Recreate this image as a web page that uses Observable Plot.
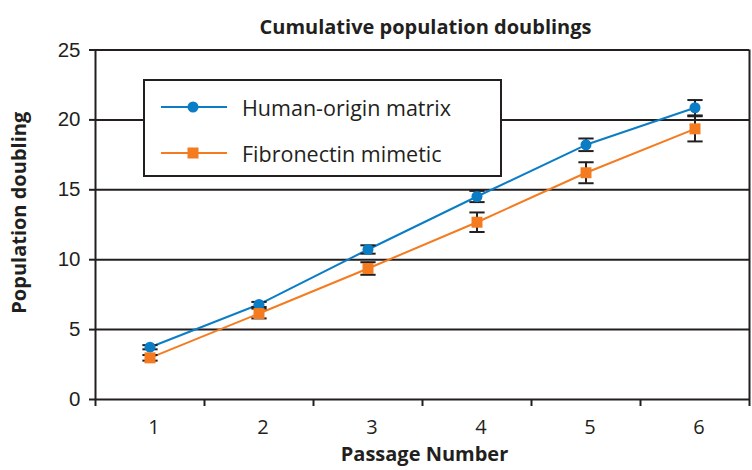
<!DOCTYPE html>
<html>
<head>
<meta charset="utf-8">
<script src="https://cdn.jsdelivr.net/npm/d3@7"></script>
<script src="https://cdn.jsdelivr.net/npm/@observablehq/plot@0.6"></script>
<style>
  body { margin: 0; background: #fff; }
  #wrap { position: relative; width: 752px; height: 470px; }
  #legend { position: absolute; left: 143px; top: 79px; width: 355px; height: 94px;
    border: 2px solid #231f20; background: #fff; font-family: "Open Sans", "Noto Sans", sans-serif;
    font-size: 21.5px; color: #231f20; }
  .row { position: absolute; left: 0; height: 30px; display: flex; align-items: center; }
  .row svg { margin-left: 16px; }
  .row span { margin-left: 15px; }
</style>
</head>
<body>
<div id="wrap"></div>
<script>
const passages = [1, 2, 3, 4, 5, 6];
const seriesNames = ["Human-origin matrix", "Fibronectin mimetic"];
const humanValues = [3.74, 6.8, 10.73, 14.52, 18.22, 20.87];
const humanErrors = [0.15, 0.18, 0.3, 0.4, 0.45, 0.55];
const fibroValues = [2.98, 6.15, 9.37, 12.68, 16.22, 19.36];
const fibroErrors = [0.2, 0.35, 0.45, 0.7, 0.75, 0.9];
const yTicks = [0, 5, 10, 15, 20, 25];
const colors = ["#0b7dc5", "#f47b20"];
const ink = "#231f20";

const data = [];
passages.forEach((p, i) => {
  data.push({series: seriesNames[0], x: p, y: humanValues[i], e: humanErrors[i]});
  data.push({series: seriesNames[1], x: p, y: fibroValues[i], e: fibroErrors[i]});
});
const human = data.filter(d => d.series === seriesNames[0]);
const fibro = data.filter(d => d.series === seriesNames[1]);
const boundaries = [0.5, 1.5, 2.5, 3.5, 4.5, 5.5, 6.5];
const capHalf = 0.07;
const frutiger = "'Open Sans', 'Noto Sans', sans-serif";

const chart = Plot.plot({
  width: 752,
  height: 470,
  marginTop: 49.5,
  marginBottom: 71,
  marginLeft: 95,
  marginRight: 3,
  x: {domain: [0.5, 6.5]},
  y: {domain: [0, 25]},
  style: {background: "#fff"},
  marks: [
    Plot.ruleY(yTicks.filter(v => v > 0), {stroke: ink, strokeWidth: 2}),
    Plot.ruleY([0], {stroke: ink, strokeWidth: 2}),
    Plot.ruleX([0.5, 6.5], {stroke: ink, strokeWidth: 2}),
    Plot.axisY({ticks: yTicks, tickSize: 6, tickPadding: 9, stroke: ink, strokeWidth: 2,
      fontSize: 20.5, fontFamily: "'Liberation Sans', Arial, sans-serif", fill: ink, label: null}),
    Plot.axisX({ticks: boundaries, tickSize: 7, stroke: ink, strokeWidth: 2, tickFormat: () => "", label: null}),
    Plot.axisX({ticks: passages, tickSize: 0, tickPadding: 20, fontSize: 20, fontFamily: frutiger,
      fill: ink, label: null, dx: 4, tickFormat: d3.format("d")}),
    Plot.line(human, {x: "x", y: "y", stroke: colors[0], strokeWidth: 2}),
    Plot.line(fibro, {x: "x", y: "y", stroke: colors[1], strokeWidth: 2}),
    Plot.ruleX(data, {x: "x", y1: d => d.y - d.e, y2: d => d.y + d.e, stroke: ink, strokeWidth: 2}),
    Plot.link(data, {x1: d => d.x - capHalf, x2: d => d.x + capHalf, y1: d => d.y - d.e, y2: d => d.y - d.e, stroke: ink, strokeWidth: 2}),
    Plot.link(data, {x1: d => d.x - capHalf, x2: d => d.x + capHalf, y1: d => d.y + d.e, y2: d => d.y + d.e, stroke: ink, strokeWidth: 2}),
    Plot.dot(human, {x: "x", y: "y", r: 5.5, fill: colors[0], symbol: "circle"}),
    Plot.dot(fibro, {x: "x", y: "y", r: 6.2, fill: colors[1], symbol: "square"}),
    Plot.text(["Cumulative population doublings"], {frameAnchor: "top", dy: -30, dx: 3,
      fontSize: 20, fontWeight: "bold", fontFamily: frutiger, fill: ink, textAnchor: "middle"}),
    Plot.text(["Passage Number"], {frameAnchor: "bottom", dy: 61, dx: 2,
      fontSize: 20, fontWeight: "bold", fontFamily: frutiger, fill: ink, textAnchor: "middle"}),
    Plot.text(["Population doubling"], {frameAnchor: "left", dx: -76, dy: -12, rotate: -90,
      fontSize: 20, fontWeight: "bold", fontFamily: frutiger, fill: ink, textAnchor: "middle"})
  ]
});
const wrap = document.getElementById("wrap");
wrap.appendChild(chart);

// legend
const legend = document.createElement("div");
legend.id = "legend";
const symbols = ["circle", "square"];
seriesNames.forEach((name, i) => {
  const row = document.createElement("div");
  row.className = "row";
  row.style.top = (i === 0 ? 11 : 57) + "px";
  const ns = "http://www.w3.org/2000/svg";
  const svg = document.createElementNS(ns, "svg");
  svg.setAttribute("width", 66); svg.setAttribute("height", 14);
  const ln = document.createElementNS(ns, "line");
  ln.setAttribute("x1", 0); ln.setAttribute("x2", 66); ln.setAttribute("y1", 7); ln.setAttribute("y2", 7);
  ln.setAttribute("stroke", colors[i]); ln.setAttribute("stroke-width", 2);
  svg.appendChild(ln);
  let m;
  if (symbols[i] === "circle") {
    m = document.createElementNS(ns, "circle");
    m.setAttribute("cx", 32); m.setAttribute("cy", 7); m.setAttribute("r", 5.5);
  } else {
    m = document.createElementNS(ns, "rect");
    m.setAttribute("x", 26.5); m.setAttribute("y", 1.5); m.setAttribute("width", 11); m.setAttribute("height", 11);
  }
  m.setAttribute("fill", colors[i]);
  svg.appendChild(m);
  row.appendChild(svg);
  const sp = document.createElement("span");
  sp.textContent = name;
  row.appendChild(sp);
  legend.appendChild(row);
});
wrap.appendChild(legend);
</script>
</body>
</html>
